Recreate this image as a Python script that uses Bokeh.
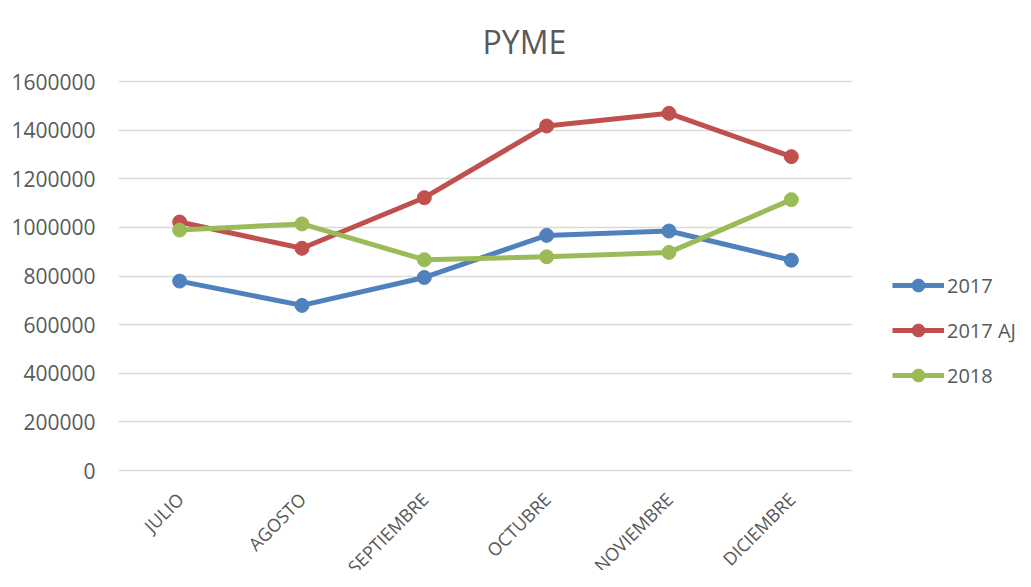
import math
from bokeh.plotting import figure
from bokeh.models import Legend, LegendItem, Range1d, FixedTicker
from bokeh.core.properties import value
from bokeh.embed import file_html
from bokeh.resources import INLINE

months = ["JULIO", "AGOSTO", "SEPTIEMBRE", "OCTUBRE", "NOVIEMBRE", "DICIEMBRE"]
s2017 = [779000, 679000, 794000, 967000, 985000, 865000]
s2017aj = [1022000, 914000, 1122000, 1417000, 1469000, 1291000]
s2018 = [989000, 1014000, 867000, 879000, 897000, 1114000]
series_names = ["2017", "2017 AJ", "2018"]
colors = ["#4F81BD", "#C0504D", "#9BBB59"]
y_ticks = [0, 200000, 400000, 600000, 800000, 1000000, 1200000, 1400000, 1600000]

FONT = "Open Sans"
GREY = "#595959"

xpos = [i + 0.5 for i in range(len(months))]
YMAX = y_ticks[-1]
per_px = YMAX / 389.0
# frame extends below the zero line so the rotated month labels have room
p = figure(frame_width=734, frame_height=491, x_range=Range1d(0, len(months)),
           y_range=Range1d(-100 * per_px, YMAX + 2 * per_px),
           output_backend="svg", toolbar_location=None,
           min_border_left=118, min_border_right=0, min_border_top=76, min_border_bottom=0)
p.outline_line_color = None
p.title.text = "PYME"
p.title.text_font = FONT
p.title.text_font_size = "32px"
p.title.text_font_style = "normal"
p.title.text_color = GREY
p.title.align = "left"
p.title.offset = 364
p.title.standoff = 34

p.yaxis.ticker = FixedTicker(ticks=y_ticks)
p.yaxis.formatter.use_scientific = False
p.yaxis.axis_line_color = None
p.yaxis.major_tick_line_color = None
p.yaxis.minor_tick_line_color = None
p.yaxis.major_label_text_font = FONT
p.yaxis.major_label_text_font_size = "21px"
p.yaxis.major_label_text_color = GREY
p.yaxis.major_label_standoff = 17

p.xaxis.visible = False
p.xgrid.grid_line_color = None
p.ygrid.grid_line_color = "#D9D9D9"
p.ygrid.grid_line_width = 1.5

# rotated category labels under the zero line
p.text(x=xpos, y=[0] * len(months), text=months, angle=math.pi / 4,
       text_align="right", text_baseline="top", x_offset=-8, y_offset=17,
       text_font=value(FONT), text_font_size="18px", text_color=GREY)

items = []
for name, vals, c in zip(series_names, [s2017, s2017aj, s2018], colors):
    l = p.line(xpos, vals, line_color=c, line_width=5)
    m = p.scatter(xpos, vals, size=14, fill_color=c, line_color=c)
    items.append(LegendItem(label=name, renderers=[l, m]))

legend = Legend(items=items, location=(40, 179), orientation="vertical",
                glyph_width=52, glyph_height=32, spacing=13, padding=0, margin=0,
                label_text_font=FONT, label_text_font_size="20px", label_text_color=GREY,
                label_standoff=3, border_line_color=None, background_fill_alpha=0)
p.add_layout(legend, "right")

open("out.html", "w").write(file_html(p, INLINE))
